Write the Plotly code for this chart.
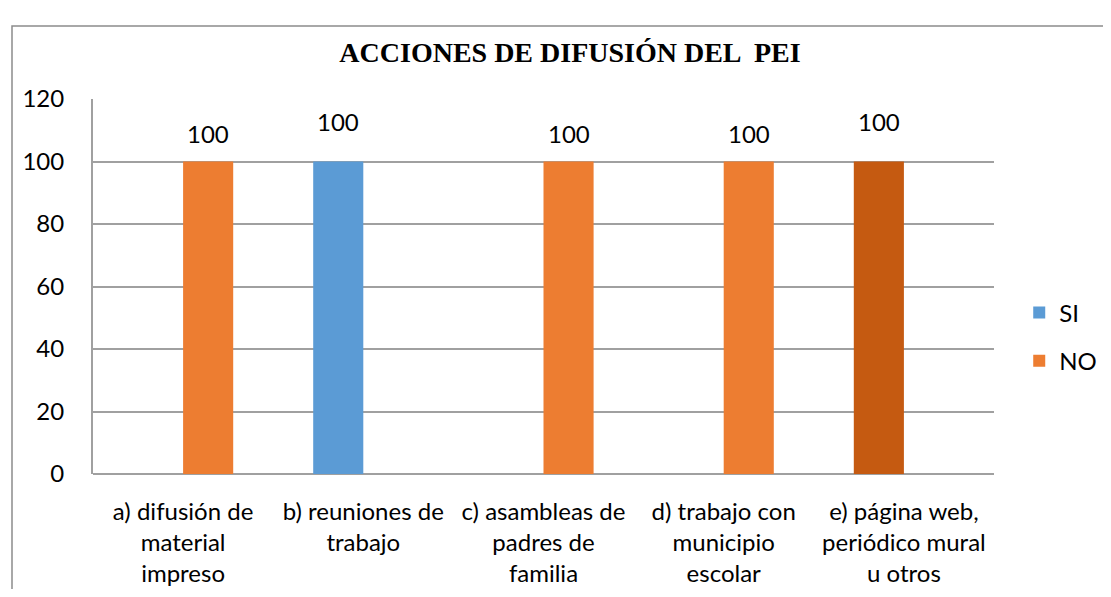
import plotly.graph_objects as go

categories = ["a) difusión de<br>material<br>impreso",
              "b) reuniones de<br>trabajo",
              "c) asambleas de<br>padres de<br>familia",
              "d) trabajo con<br>municipio<br>escolar",
              "e) página web,<br>periódico mural<br>u otros"]
si_values = [0, 100, 0, 0, 100]
no_values = [100, 0, 100, 100, 0]
si_colors = ["#5B9BD5", "#5B9BD5", "#5B9BD5", "#5B9BD5", "#C55A11"]
y_ticks = [0, 20, 40, 60, 80, 100, 120]

FONT = "Lato, Open Sans, sans-serif"
FS = 24
OFF = 8  # page body margin
W, H = 1111 - 2 * OFF, 597 - 2 * OFF
ML, MR, MT, MB = 93 - OFF, 1111 - OFF - 994, 99 - OFF, 597 - OFF - 474
BARGAP = 0.444
PW, PH = W - ML - MR, H - MT - MB

fig = go.Figure()
fig.add_trace(go.Bar(name="SI", x=categories, y=si_values,
                     marker=dict(color=si_colors, line=dict(width=0)),
                     legendgroup="si"))
fig.add_trace(go.Bar(name="NO", x=categories, y=no_values,
                     marker=dict(color="#ED7D31", line=dict(width=0)),
                     legendgroup="no"))

# data labels
cat_w = PW / len(categories)
bar_w = cat_w * (1 - BARGAP) / 2
for c, s, n in zip(categories, si_values, no_values):
    if s:
        fig.add_annotation(x=c, y=s, text=str(s), showarrow=False,
                           xshift=-bar_w / 2, yshift=40,
                           font=dict(family=FONT, size=FS, color="#000000"))
    if n:
        fig.add_annotation(x=c, y=n, text=str(n), showarrow=False,
                           xshift=bar_w / 2, yshift=28,
                           font=dict(family=FONT, size=FS, color="#000000"))

# chart border
fig.add_shape(type="rect", xref="paper", yref="paper",
              x0=(12 - OFF - ML) / PW, x1=1.5,
              y0=-1, y1=(474 - 26) / PH,
              line=dict(color="#8C8C8C", width=1.5), layer="below")

fig.update_layout(
    width=W, height=H,
    margin=dict(l=ML, r=MR, t=MT, b=MB, autoexpand=False),
    paper_bgcolor="white", plot_bgcolor="white",
    barmode="group", bargap=BARGAP, bargroupgap=0,
    title=dict(text="<b>ACCIONES DE DIFUSIÓN DEL  PEI</b>",
               font=dict(family="Liberation Serif, Times New Roman, serif", size=28, color="#000000"),
               x=(570 - OFF) / W, xanchor="center", y=1 - (52 - OFF) / H, yanchor="middle"),
    font=dict(family=FONT, size=FS, color="#000000"),
    legend=dict(x=1.028, xanchor="left", y=(474 - 337) / PH, yanchor="middle",
                font=dict(family=FONT, size=FS, color="#000000"),
                tracegroupgap=14, traceorder="grouped", itemclick=False),
    xaxis=dict(showgrid=False, showline=False, ticks="", tickfont=dict(size=FS),
               ticklabelstandoff=21),
    yaxis=dict(range=[0, 120], tickvals=y_ticks, showgrid=True,
               gridcolor="#A0A0A0", gridwidth=2, showline=True,
               linecolor="#A0A0A0", linewidth=2, zeroline=True,
               zerolinecolor="#A0A0A0", zerolinewidth=2,
               ticks="", tickfont=dict(size=FS), ticklabelstandoff=22),
)

fig.write_html("out.html")
